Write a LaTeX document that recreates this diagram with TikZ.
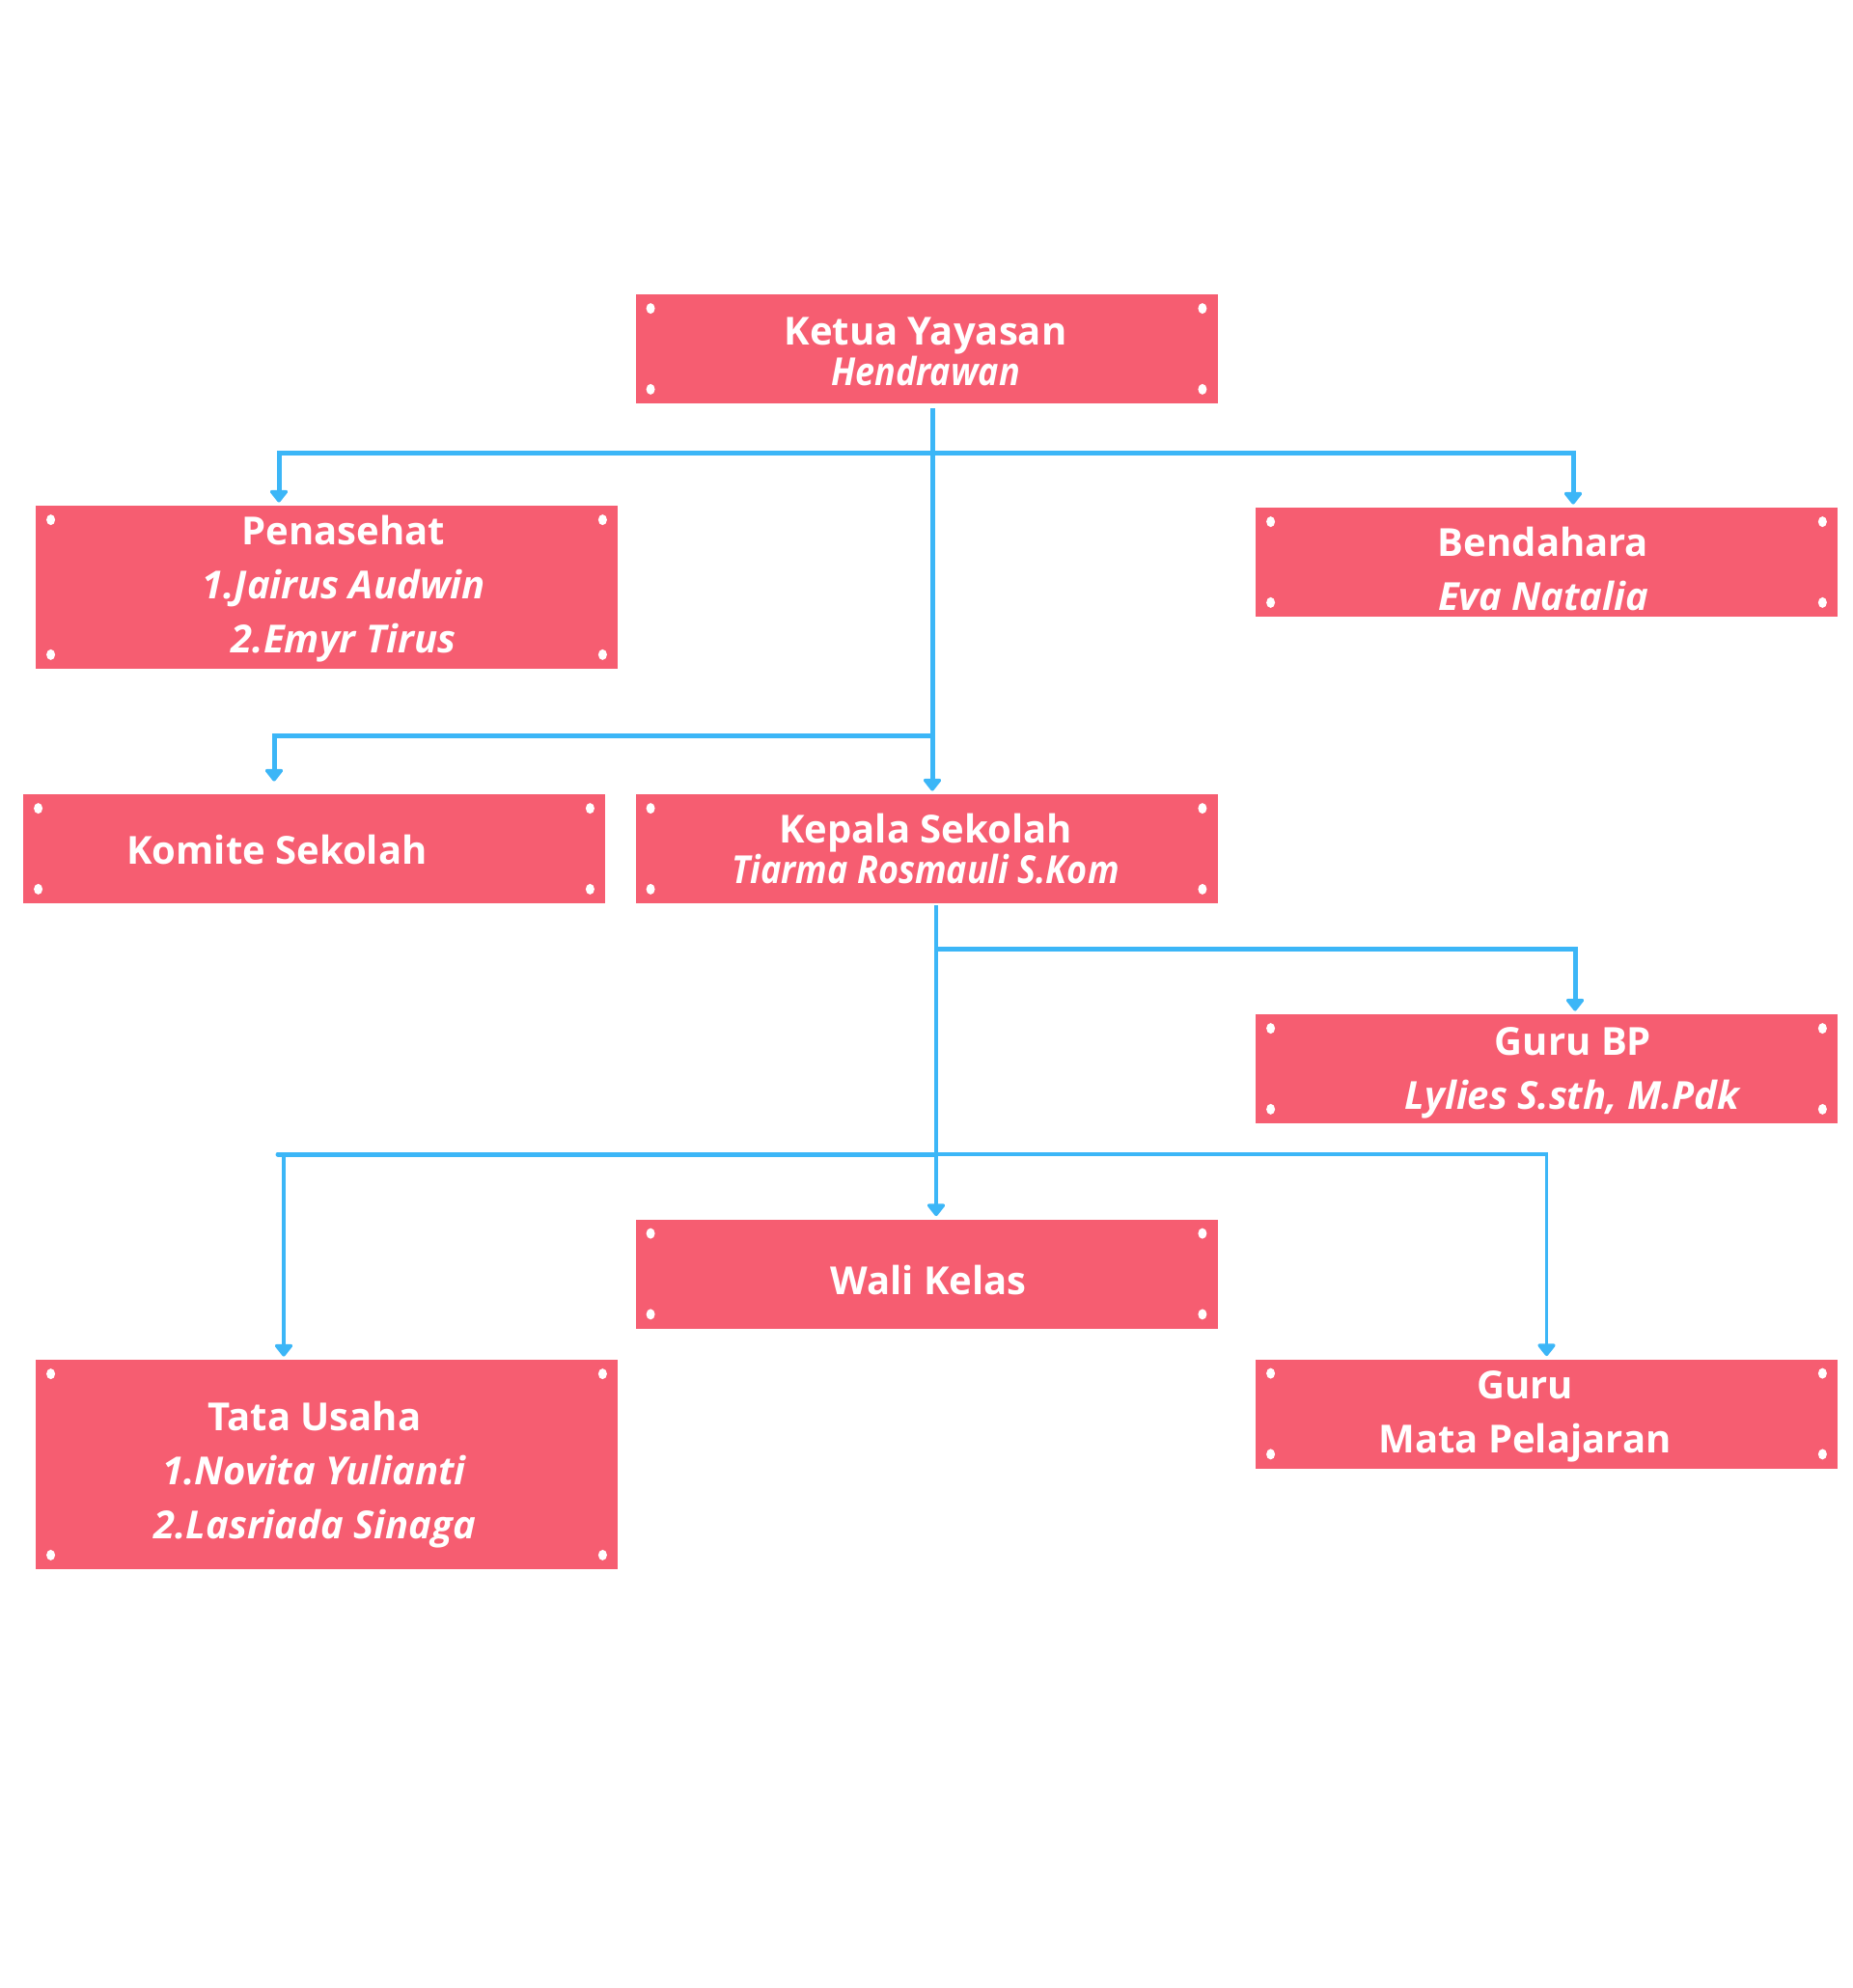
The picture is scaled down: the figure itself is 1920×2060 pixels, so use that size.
\documentclass[tikz,border=0pt]{standalone}
\usepackage{fontspec}
\setmainfont{Open Sans}
\usetikzlibrary{arrows.meta, positioning, calc}

\definecolor{merah}{HTML}{F65D71}
\definecolor{biru}{HTML}{3CB6F7}
\newcommand{\sempit}[1]{{\addfontfeature{FakeStretch=0.9}\itshape #1}}

\begin{document}
\begin{tikzpicture}[
    x=0.5pt, y=-0.5pt,
    kotak/.style={rectangle, fill=merah, inner sep=0pt, minimum width=301.5pt, minimum height=56.5pt},
    teks/.style={text=white, align=center, font=\fontsize{20}{21}\selectfont\bfseries},
    teksrenggang/.style={teks, font=\fontsize{20}{28}\selectfont\bfseries},
    titik/.style={fill=white},
    garisan/.style={draw=biru, line width=2.5pt},
    panah/.style={garisan, -{Triangle[width=10.5pt, length=7pt, round]}, shorten >=1.5pt}
]

\useasboundingbox (0,0) rectangle (1920,2060);

% Kotak
\node[kotak] (ketua) at (960,361.5) {};
\node[kotak, minimum height=84.5pt] (pen) at (338.5,608.5) {};
\node[kotak] (bend) at (1602.5,582.5) {};
\node[kotak] (kom) at (325.5,879.5) {};
\node[kotak] (kep) at (960,879.5) {};
\node[kotak] (bp) at (1602.5,1107.5) {};
\node[kotak] (wali) at (960,1320) {};
\node[kotak, minimum height=108.5pt] (tata) at (338.5,1517.5) {};
\node[kotak] (mapel) at (1602.5,1465) {};

% Titik di sudut kotak
\foreach \n in {ketua,pen,bend,kom,kep,bp,wali,tata,mapel}{
    \fill[titik] ([shift={(16,15)}]\n.north west) ellipse (2.25pt and 2.75pt);
    \fill[titik] ([shift={(-16,15)}]\n.north east) ellipse (2.25pt and 2.75pt);
    \fill[titik] ([shift={(16,-15)}]\n.south west) ellipse (2.25pt and 2.75pt);
    \fill[titik] ([shift={(-16,-15)}]\n.south east) ellipse (2.25pt and 2.75pt);
}

% Teks
\node[teks] (tketua) at (959,364) {Ketua Yayasan\\\sempit{Hendrawan}};
\node[teksrenggang] (tpen) at (356,610.5) {Penasehat\\\textit{1.Jairus Audwin}\\\textit{2.Emyr Tirus}};
\node[teksrenggang] (tbend) at (1599,589) {Bendahara\\\textit{Eva Natalia}};
\node[teks] (tkom) at (287,880.5) {Komite Sekolah};
\node[teks] (tkep) at (959,880) {Kepala Sekolah\\\sempit{Tiarma Rosmauli S.Kom}};
\node[teksrenggang] (tbp) at (1630,1111.5) {Guru BP\\\textit{Lylies S.sth, M.Pdk}};
\node[teks] (twali) at (962,1326) {Wali Kelas};
\node[teksrenggang] (ttata) at (326,1528) {Tata Usaha\\\textit{1.Novita Yulianti}\\\textit{2.Lasriada Sinaga}};
\node[teksrenggang] (tmapel) at (1580,1467.5) {Guru\\Mata Pelajaran};

% Titik cabang
\coordinate (cabangA) at (966,469);
\coordinate (cabangB) at (966,762);
\coordinate (cabangC) at (970,983);
\coordinate (cabangD) at (970,1196);
\coordinate (ujungD) at (288,1196);

% Garis penghubung
\draw[panah, shorten <=2.5pt] ([xshift=3pt]ketua.south) -- ([xshift=3pt]kep.north);
\draw[panah] (cabangA) -| ([xshift=-24.75pt]pen.north);
\draw[panah] (cabangA) -| ([xshift=13.75pt]bend.north);
\draw[panah, shorten >=6.5pt] (cabangB) -| ([xshift=-20.75pt]kom.north);
\draw[panah, line width=2pt, shorten <=1pt] ([xshift=5pt]kep.south) -- ([xshift=5pt]wali.north);
\draw[panah] (cabangC) -| ([xshift=14.75pt]bp.north);
\draw[garisan, line cap=round] (cabangD) -- (ujungD);
\draw[panah, line width=1.8pt] (cabangD) -| ([xshift=-22.25pt]tata.north);
\draw[panah, line width=1.8pt] (cabangD) -| (mapel.north);

\end{tikzpicture}
\end{document}
